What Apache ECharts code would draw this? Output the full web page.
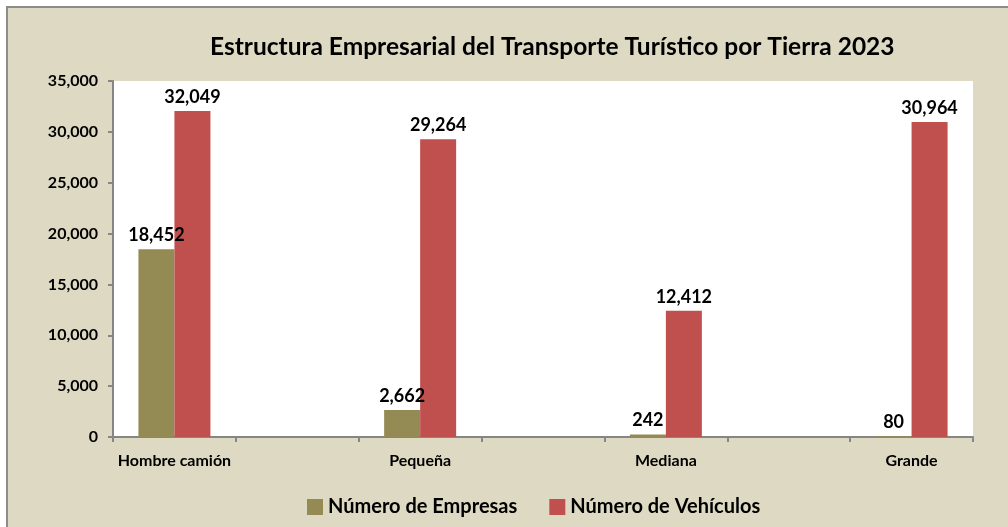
<!DOCTYPE html>
<html>
<head>
<meta charset="utf-8">
<script src="https://cdn.jsdelivr.net/npm/echarts@6/dist/echarts.min.js"></script>
<style>
  html, body { margin: 0; padding: 0; background: #ffffff; }
  #chart { width: 1008px; height: 527px; }
</style>
</head>
<body>
<div id="chart"></div>
<script>
// Company size categories and their totals
const categories = ['Hombre camión', 'Pequeña', 'Mediana', 'Grande'];
const empresas = [18452, 2662, 242, 80];
const vehiculos = [32049, 29264, 12412, 30964];
const yTicks = { min: 0, max: 35000, interval: 5000 };
const seriesNames = ['Número de Empresas', 'Número de Vehículos'];

// Each category sits in its own slot with an empty slot between neighbours
const slots = [];
const empSlots = [];
const vehSlots = [];
categories.forEach((c, i) => {
  if (i > 0) { slots.push(''); empSlots.push('-'); vehSlots.push('-'); }
  slots.push(c); empSlots.push(empresas[i]); vehSlots.push(vehiculos[i]);
});

const FONT = 'Lato, "Noto Sans", sans-serif';
const fmt = v => Number(v).toLocaleString('en-US');

const chart = echarts.init(document.getElementById('chart'));
chart.setOption({
  backgroundColor: '#ffffff',
  animation: false,
  graphic: [{
    type: 'rect',
    z: -10,
    shape: { x: 7, y: 7, width: 1020, height: 540 },
    style: { fill: '#DDD9C3', stroke: '#8C8C8C', lineWidth: 2 }
  }],
  title: {
    text: 'Estructura Empresarial del Transporte Turístico por Tierra 2023',
    left: 205,
    top: 30,
    textStyle: { fontFamily: FONT, fontWeight: 'bold', fontSize: 24.5, color: '#000' }
  },
  grid: {
    left: 113, right: 35, top: 81, bottom: 90,
    show: true, backgroundColor: '#ffffff', borderWidth: 0
  },
  legend: {
    bottom: 5,
    left: 302,
    itemWidth: 16,
    itemHeight: 16,
    itemGap: 32,
    icon: 'rect',
    textStyle: { fontFamily: FONT, fontWeight: 'bold', fontSize: 20, color: '#000' },
    data: seriesNames
  },
  xAxis: {
    type: 'category',
    data: slots,
    axisLine: { lineStyle: { color: '#868686', width: 2 } },
    axisTick: { show: true, interval: 0, length: 5, lineStyle: { color: '#868686', width: 2 } },
    axisLabel: { interval: 0, margin: 16, fontFamily: FONT, fontWeight: 'bold', fontSize: 16, color: '#000' }
  },
  yAxis: {
    type: 'value',
    min: yTicks.min, max: yTicks.max, interval: yTicks.interval,
    splitLine: { show: false },
    axisLine: { show: true, lineStyle: { color: '#868686', width: 2 } },
    axisTick: { show: true, length: 5, lineStyle: { color: '#868686', width: 2 } },
    axisLabel: { margin: 15, formatter: fmt, fontFamily: FONT, fontWeight: 'bold', fontSize: 16, color: '#000' }
  },
  series: [
    {
      name: seriesNames[0],
      type: 'bar',
      data: empSlots,
      barWidth: 36,
      barGap: '0%',
      itemStyle: { color: '#948A54' },
      label: {
        show: true, position: 'top', distance: 5,
        formatter: p => fmt(p.value),
        fontFamily: FONT, fontWeight: 'bold', fontSize: 18, color: '#000'
      }
    },
    {
      name: seriesNames[1],
      type: 'bar',
      data: vehSlots,
      barWidth: 36,
      itemStyle: { color: '#C0504D' },
      label: {
        show: true, position: 'top', distance: 5,
        formatter: p => fmt(p.value),
        fontFamily: FONT, fontWeight: 'bold', fontSize: 18, color: '#000'
      }
    }
  ]
});
</script>
</body>
</html>
